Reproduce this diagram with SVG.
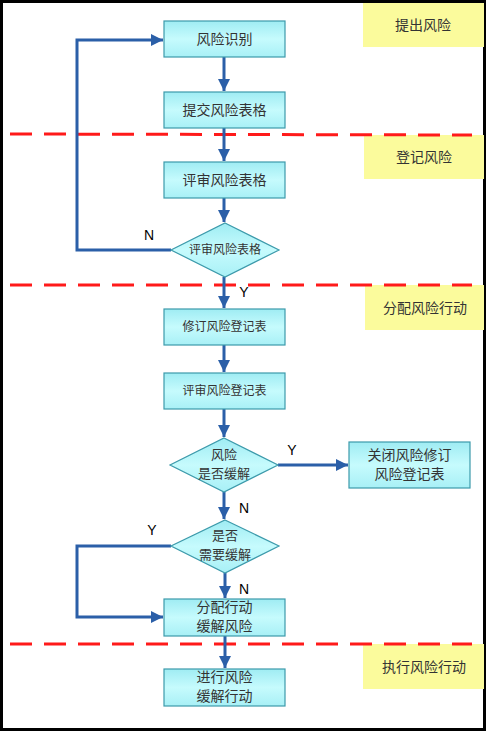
<svg xmlns="http://www.w3.org/2000/svg" width="487" height="733" viewBox="0 0 487 733">
<style>
.box{fill:url(#g);stroke:#3c9aab;stroke-width:1.2}
.dia{fill:url(#g);stroke:#3c9aab;stroke-width:1.2}
.lab{fill:#fbfb9c}
.t{font-family:"Noto Sans CJK SC","Liberation Sans",sans-serif;font-size:14px;fill:#333;text-anchor:middle}
.tm{font-family:"Noto Sans CJK SC","Liberation Sans",sans-serif;font-size:13px;fill:#333;text-anchor:middle}
.ts{font-family:"Noto Sans CJK SC","Liberation Sans",sans-serif;font-size:12px;fill:#333;text-anchor:middle}
.yn{font-family:"Liberation Sans",Arial,sans-serif;font-size:14px;fill:#000;text-anchor:middle}
.c{fill:none;stroke:#2b5fa8;stroke-width:3}
.d{fill:none;stroke:#ff1a1a;stroke-width:3;stroke-dasharray:22 12}
</style>
<defs>
<linearGradient id="g" x1="0" y1="0" x2="0" y2="1">
<stop offset="0" stop-color="#9fecf3"/>
<stop offset="0.5" stop-color="#c6fbfd"/>
<stop offset="1" stop-color="#a8f0f6"/>
</linearGradient>
<marker id="a" viewBox="0 0 10 10" refX="10" refY="5" markerWidth="4.2" markerHeight="4" orient="auto" markerUnits="strokeWidth">
<path d="M0,0 L10,5 L0,10 z" fill="#2b5fa8"/>
</marker>
</defs>
<rect x="0" y="0" width="487" height="733" fill="#fff"/>
<rect x="1.5" y="1.5" width="483" height="728" fill="none" stroke="#000" stroke-width="3"/>
<g id="lane-labels">
<g id="lab1"><rect class="lab" x="363" y="3" width="121" height="44"/><text class="t" x="423" y="30">提出风险</text></g>
<g id="lab2"><rect class="lab" x="364" y="135" width="120" height="44"/><text class="t" x="424" y="162">登记风险</text></g>
<g id="lab3"><rect class="lab" x="365" y="285" width="119" height="45"/><text class="t" x="425" y="313">分配风险行动</text></g>
<g id="lab4"><rect class="lab" x="363" y="644" width="121" height="45"/><text class="t" x="424" y="672">执行风险行动</text></g>
</g>
<g id="dividers">
<line class="d" x1="10" y1="134" x2="472" y2="135"/>
<line class="d" x1="10" y1="285" x2="472" y2="285"/>
<line class="d" x1="10" y1="644" x2="472" y2="644"/>
</g>
<g id="connectors">
<line class="c" x1="224" y1="57" x2="224" y2="91" marker-end="url(#a)"/>
<line class="c" x1="224" y1="128" x2="224" y2="161" marker-end="url(#a)"/>
<line class="c" x1="224" y1="198" x2="224" y2="222" marker-end="url(#a)"/>
<polyline class="c" points="171,250 77,250 77,40 163,40" marker-end="url(#a)"/>
<line class="c" x1="224" y1="277" x2="224" y2="308" marker-end="url(#a)"/>
<line class="c" x1="224" y1="345" x2="224" y2="372" marker-end="url(#a)"/>
<line class="c" x1="224" y1="409" x2="224" y2="437" marker-end="url(#a)"/>
<line class="c" x1="278" y1="465" x2="348" y2="465" marker-end="url(#a)"/>
<line class="c" x1="224" y1="492" x2="224" y2="519" marker-end="url(#a)"/>
<polyline class="c" points="171,546 77,546 77,617 163,617" marker-end="url(#a)"/>
<line class="c" x1="225" y1="573" x2="225" y2="598" marker-end="url(#a)"/>
<line class="c" x1="225" y1="636" x2="225" y2="668" marker-end="url(#a)"/>
<text class="yn" x="149" y="240">N</text>
<text class="yn" x="244" y="297">Y</text>
<text class="yn" x="292" y="455">Y</text>
<text class="yn" x="244" y="513">N</text>
<text class="yn" x="152" y="535">Y</text>
<text class="yn" x="244" y="594">N</text>
</g>
<g id="n1"><rect class="box" x="164" y="21" width="121" height="36"/><text class="t" x="224.5" y="44">风险识别</text></g>
<g id="n2"><rect class="box" x="164" y="92" width="121" height="36"/><text class="t" x="224.5" y="115">提交风险表格</text></g>
<g id="n3"><rect class="box" x="164" y="162" width="121" height="36"/><text class="t" x="224.5" y="185">评审风险表格</text></g>
<g id="d1"><polygon class="dia" points="225,223 279,250 225,277 171,250"/><text class="ts" x="225" y="254">评审风险表格</text></g>
<g id="n4"><rect class="box" x="164" y="309" width="121" height="36"/><text class="ts" x="224.5" y="331">修订风险登记表</text></g>
<g id="n5"><rect class="box" x="164" y="373" width="121" height="36"/><text class="ts" x="224.5" y="395">评审风险登记表</text></g>
<g id="d2"><polygon class="dia" points="224,438 278,465 224,492 170,465"/><text class="tm" x="224" y="459">风险</text><text class="tm" x="224" y="478">是否缓解</text></g>
<g id="n6"><rect class="box" x="349" y="442" width="121" height="46"/><text class="t" x="409.5" y="460">关闭风险修订</text><text class="t" x="409.5" y="479">风险登记表</text></g>
<g id="d3"><polygon class="dia" points="225,520 279,546 225,573 171,546"/><text class="tm" x="225" y="540">是否</text><text class="tm" x="225" y="559">需要缓解</text></g>
<g id="n7"><rect class="box" x="164" y="599" width="121" height="37"/><text class="t" x="224.5" y="612">分配行动</text><text class="t" x="224.5" y="631">缓解风险</text></g>
<g id="n8"><rect class="box" x="164" y="669" width="121" height="37"/><text class="t" x="224.5" y="682">进行风险</text><text class="t" x="224.5" y="701">缓解行动</text></g>
</svg>
